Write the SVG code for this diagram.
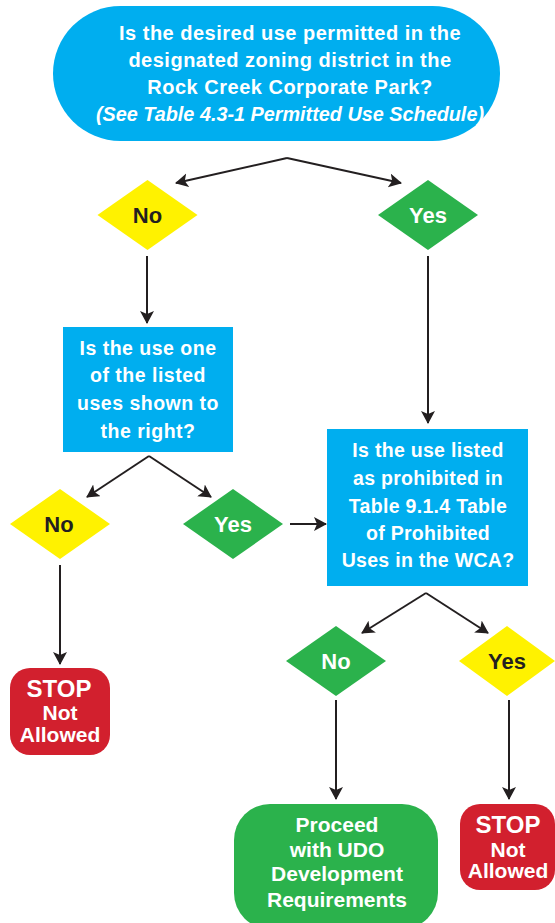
<svg xmlns="http://www.w3.org/2000/svg" width="555" height="923" viewBox="0 0 555 923">
<style>
.t{font-family:"Liberation Sans",Arial,sans-serif;font-weight:bold;text-anchor:middle;fill:#ffffff}
.dk{fill:#231f20}
.blue{fill:#00aeef}
.yel{fill:#fff200}
.grn{fill:#2bb24c}
.red{fill:#d2202e}
.c{stroke:#231f20;stroke-width:2;fill:none;marker-end:url(#ah)}
</style>
<defs>
<marker id="ah" markerUnits="userSpaceOnUse" markerWidth="16" markerHeight="16" refX="12" refY="7" orient="auto">
<path d="M0,0 L13,7 L0,14 L3,7 Z" fill="#231f20"/>
</marker>
</defs>
<g id="connectors">
<line class="c" x1="287" y1="158" x2="176" y2="183"/>
<line class="c" x1="287" y1="158" x2="401" y2="183"/>
<line class="c" x1="147" y1="256" x2="147" y2="323"/>
<line class="c" x1="428" y1="256" x2="428" y2="423"/>
<line class="c" x1="149" y1="456" x2="87" y2="497"/>
<line class="c" x1="149" y1="456" x2="211" y2="497"/>
<line class="c" x1="290" y1="524" x2="326" y2="524"/>
<line class="c" x1="60" y1="565" x2="60" y2="664"/>
<line class="c" x1="426" y1="593" x2="362" y2="633"/>
<line class="c" x1="426" y1="593" x2="488" y2="633"/>
<line class="c" x1="336" y1="700" x2="336" y2="799"/>
<line class="c" x1="509" y1="700" x2="509" y2="799"/>
</g>
<g id="q1">
<rect class="blue" x="53" y="6" width="447" height="135" rx="67.5"/>
<text class="t" font-size="20" letter-spacing="0.5"><tspan x="290" y="40">Is the desired use permitted in the</tspan><tspan x="290" y="67">designated zoning district in the</tspan><tspan x="290" y="94">Rock Creek Corporate Park?</tspan></text>
<text class="t" font-size="20" font-style="italic" x="290" y="121" textLength="388" lengthAdjust="spacingAndGlyphs">(See Table 4.3-1 Permitted Use Schedule)</text>
</g>
<g id="no1">
<polygon class="yel" points="97.5,215 147.5,180 197.5,215 147.5,250"/>
<text class="t dk" font-size="22" x="147.5" y="223">No</text>
</g>
<g id="yes1">
<polygon class="grn" points="378,215 428,180 478,215 428,250"/>
<text class="t" font-size="22" x="428" y="223">Yes</text>
</g>
<g id="q2">
<rect class="blue" x="63" y="327" width="170" height="125"/>
<text class="t" font-size="19.5" letter-spacing="0.5"><tspan x="148" y="355">Is the use one</tspan><tspan x="148" y="382">of the listed</tspan><tspan x="148" y="410">uses shown to</tspan><tspan x="148" y="438">the right?</tspan></text>
</g>
<g id="q3">
<rect class="blue" x="327" y="429" width="201" height="157"/>
<text class="t" font-size="19.5" letter-spacing="0.3"><tspan x="428" y="457">Is the use listed</tspan><tspan x="428" y="485">as prohibited in</tspan><tspan x="428" y="513">Table 9.1.4 Table</tspan><tspan x="428" y="540">of Prohibited</tspan><tspan x="428" y="567">Uses in the WCA?</tspan></text>
</g>
<g id="no2">
<polygon class="yel" points="10,524 60,489 110,524 60,559"/>
<text class="t dk" font-size="22" x="59" y="532">No</text>
</g>
<g id="yes2">
<polygon class="grn" points="183,524 233,489 283,524 233,559"/>
<text class="t" font-size="22" x="233" y="532">Yes</text>
</g>
<g id="stop1">
<rect class="red" x="10" y="668" width="100" height="87" rx="20"/>
<text class="t"><tspan x="59" y="697" font-size="24">STOP</tspan><tspan x="60" y="720" font-size="21">Not</tspan><tspan x="60" y="742" font-size="21">Allowed</tspan></text>
</g>
<g id="no3">
<polygon class="grn" points="286,661 336,626 386,661 336,696"/>
<text class="t" font-size="22" x="336" y="669">No</text>
</g>
<g id="yes3">
<polygon class="yel" points="459,661 507,626 555,661 507,696"/>
<text class="t dk" font-size="22" x="507" y="669">Yes</text>
</g>
<g id="proceed">
<rect class="grn" x="234" y="804" width="204" height="125" rx="36"/>
<text class="t" font-size="21"><tspan x="337" y="832">Proceed</tspan><tspan x="337" y="857">with UDO</tspan><tspan x="337" y="881">Development</tspan><tspan x="337" y="907">Requirements</tspan></text>
</g>
<g id="stop2">
<rect class="red" x="460" y="804" width="95" height="86" rx="20"/>
<text class="t"><tspan x="508" y="833" font-size="24">STOP</tspan><tspan x="508" y="857" font-size="21">Not</tspan><tspan x="508" y="878" font-size="21">Allowed</tspan></text>
</g>
</svg>
